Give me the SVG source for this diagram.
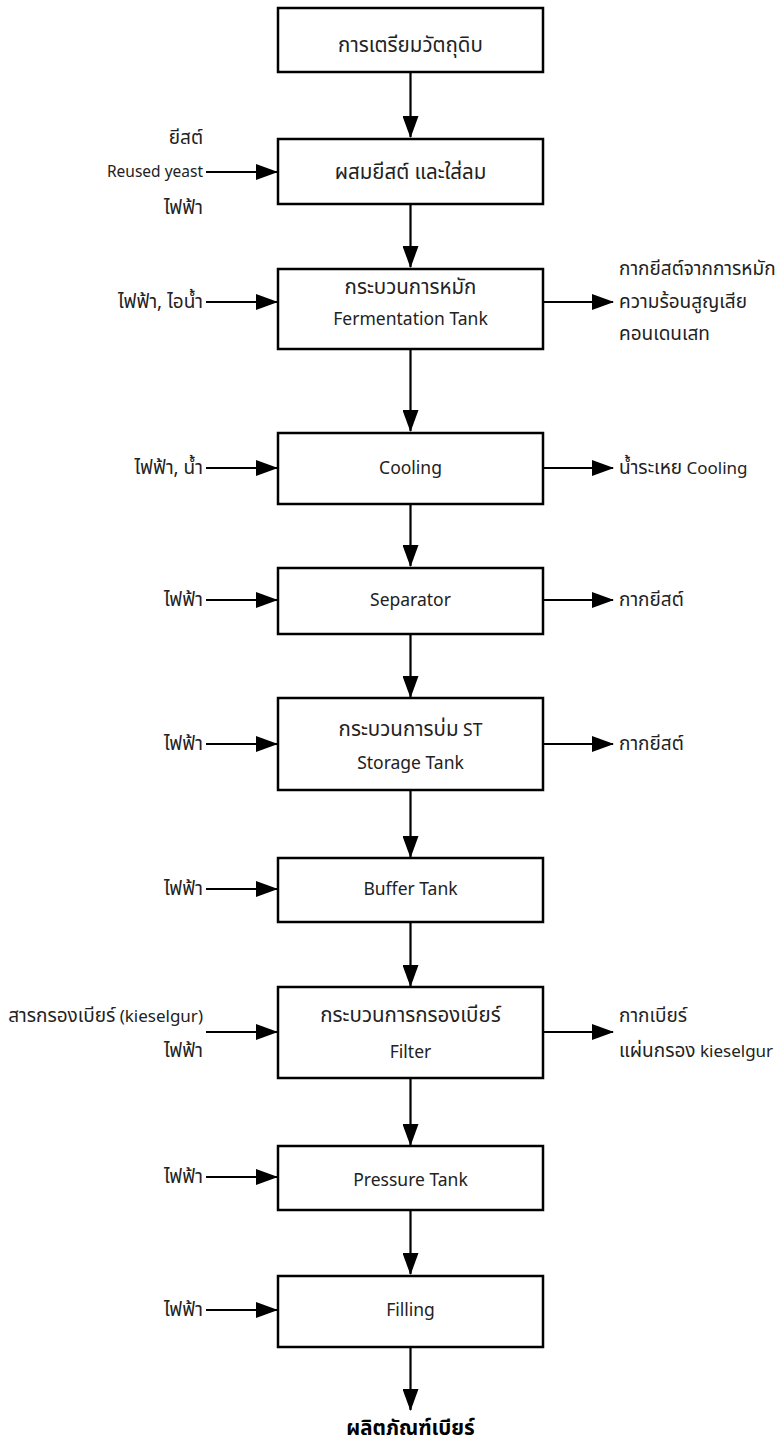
<svg xmlns="http://www.w3.org/2000/svg" width="776" height="1446" viewBox="0 0 776 1446">
<defs>
<marker id="ah" markerWidth="22" markerHeight="16" refX="21" refY="8" orient="auto" markerUnits="userSpaceOnUse">
<path d="M0,0 L22,8 L0,16 Z" fill="#000"/>
</marker>
<style>
.box{fill:#fff;stroke:#000;stroke-width:2.5}
.c{stroke:#000;stroke-width:2.2;fill:none;marker-end:url(#ah)}
text{font-family:"Noto Sans","Noto Sans Thai","Leelawadee UI",sans-serif;font-size:15.5px;fill:#222}
.m{text-anchor:middle;font-size:17.5px}
.l{text-anchor:end}
.r{text-anchor:start}
.x{font-size:17px}
.th{font-size:19px}
.m .th,.m.th{font-size:20.5px}
.b{font-weight:bold;font-size:20.5px;fill:#000}
</style>
</defs>
<g id="connectors">
<line class="c" x1="410.5" y1="72" x2="410.5" y2="137"/>
<line class="c" x1="410.5" y1="204" x2="410.5" y2="267"/>
<line class="c" x1="410.5" y1="349" x2="410.5" y2="431"/>
<line class="c" x1="410.5" y1="504" x2="410.5" y2="566"/>
<line class="c" x1="410.5" y1="634" x2="410.5" y2="697"/>
<line class="c" x1="410.5" y1="791" x2="410.5" y2="857"/>
<line class="c" x1="410.5" y1="923" x2="410.5" y2="986"/>
<line class="c" x1="410.5" y1="1079" x2="410.5" y2="1145"/>
<line class="c" x1="410.5" y1="1211" x2="410.5" y2="1274"/>
<line class="c" x1="410.5" y1="1348" x2="410.5" y2="1410"/>
<line class="c" x1="206" y1="172" x2="277" y2="172"/>
<line class="c" x1="206" y1="302" x2="277" y2="302"/>
<line class="c" x1="206" y1="468" x2="277" y2="468"/>
<line class="c" x1="206" y1="600" x2="277" y2="600"/>
<line class="c" x1="206" y1="744" x2="277" y2="744"/>
<line class="c" x1="206" y1="889" x2="277" y2="889"/>
<line class="c" x1="206" y1="1032" x2="277" y2="1032"/>
<line class="c" x1="206" y1="1177" x2="277" y2="1177"/>
<line class="c" x1="206" y1="1310" x2="277" y2="1310"/>
<line class="c" x1="544" y1="302" x2="613" y2="302"/>
<line class="c" x1="544" y1="468" x2="613" y2="468"/>
<line class="c" x1="544" y1="600" x2="613" y2="600"/>
<line class="c" x1="544" y1="744" x2="613" y2="744"/>
<line class="c" x1="544" y1="1032" x2="613" y2="1032"/>
</g>
<g id="n1"><rect class="box" x="278" y="8" width="265" height="64"/><text class="m th" x="410.5" y="52">การเตรียมวัตถุดิบ</text></g>
<g id="n2"><rect class="box" x="278" y="139" width="265" height="65"/><text class="m th" x="410.5" y="179">ผสมยีสต์ และใส่ลม</text></g>
<g id="n3"><rect class="box" x="278" y="269" width="265" height="80"/><text class="m th" x="410.5" y="294">กระบวนการหมัก</text><text class="m" x="410.5" y="325">Fermentation Tank</text></g>
<g id="n4"><rect class="box" x="278" y="433" width="265" height="71"/><text class="m" x="410.5" y="474">Cooling</text></g>
<g id="n5"><rect class="box" x="278" y="568" width="265" height="66"/><text class="m" x="410.5" y="606">Separator</text></g>
<g id="n6"><rect class="box" x="278" y="698" width="265" height="92"/><text class="m" x="410.5" y="736"><tspan class="th">กระบวนการบ่ม</tspan> ST</text><text class="m" x="410.5" y="769">Storage Tank</text></g>
<g id="n7"><rect class="box" x="278" y="858" width="265" height="64"/><text class="m" x="410.5" y="895">Buffer Tank</text></g>
<g id="n8"><rect class="box" x="278" y="987" width="265" height="91"/><text class="m th" x="410.5" y="1022">กระบวนการกรองเบียร์</text><text class="m" x="410.5" y="1058">Filter</text></g>
<g id="n9"><rect class="box" x="278" y="1146" width="265" height="64"/><text class="m" x="410.5" y="1186">Pressure Tank</text></g>
<g id="n10"><rect class="box" x="278" y="1276" width="265" height="71"/><text class="m" x="410.5" y="1316">Filling</text></g>
<g id="in2"><text class="l th" x="203" y="144">ยีสต์</text><text class="l" x="203" y="177">Reused yeast</text><text class="l th" x="203" y="214">ไฟฟ้า</text></g>
<g id="in3"><text class="l th" x="203" y="308">ไฟฟ้า, ไอน้ำ</text></g>
<g id="in4"><text class="l th" x="203" y="474">ไฟฟ้า, น้ำ</text></g>
<g id="in5"><text class="l th" x="203" y="606">ไฟฟ้า</text></g>
<g id="in6"><text class="l th" x="203" y="750">ไฟฟ้า</text></g>
<g id="in7"><text class="l th" x="203" y="895">ไฟฟ้า</text></g>
<g id="in8"><text class="l x" x="203" y="1022"><tspan class="th">สารกรองเบียร์</tspan> (kieselgur)</text><text class="l th" x="203" y="1057">ไฟฟ้า</text></g>
<g id="in9"><text class="l th" x="203" y="1183">ไฟฟ้า</text></g>
<g id="in10"><text class="l th" x="203" y="1316">ไฟฟ้า</text></g>
<g id="out3"><text class="r th" x="619" y="275">กากยีสต์จากการหมัก</text><text class="r th" x="619" y="308">ความร้อนสูญเสีย</text><text class="r th" x="619" y="340">คอนเดนเสท</text></g>
<g id="out4"><text class="r x" x="619" y="474"><tspan class="th">น้ำระเหย</tspan> Cooling</text></g>
<g id="out5"><text class="r th" x="619" y="606">กากยีสต์</text></g>
<g id="out6"><text class="r th" x="619" y="750">กากยีสต์</text></g>
<g id="out8"><text class="r th" x="619" y="1022">กากเบียร์</text><text class="r x" x="619" y="1057"><tspan class="th">แผ่นกรอง</tspan> kieselgur</text></g>
<g id="product"><text class="m b" x="410.5" y="1435">ผลิตภัณฑ์เบียร์</text></g>
</svg>
